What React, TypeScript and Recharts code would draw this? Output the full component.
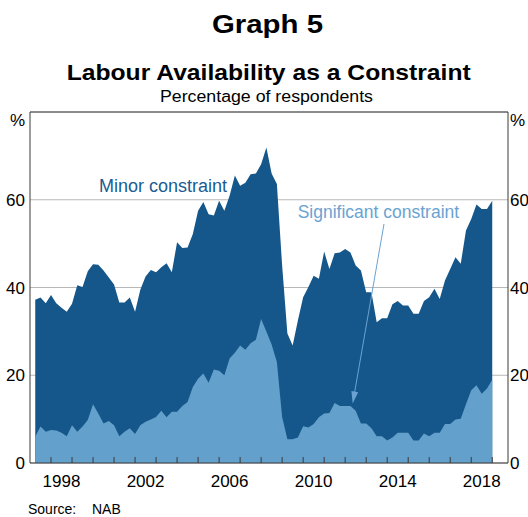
import { AreaChart, Area, XAxis, YAxis, CartesianGrid, ReferenceLine } from "recharts";

// quarterly, first observation plotted at 1997.25
const firstQuarter = 1997.25;

// total share of firms reporting labour as a constraint (minor + significant), %
const totalConstraint = [
  37.2, 37.7, 36.4,
  38.3, 36.4, 35.4, 34.5,
  36.3, 40.5, 40.1, 43.7,
  45.3, 45.2, 43.9, 42.3,
  40.7, 36.6, 36.6, 37.7,
  34.5, 39.5, 42.5, 44.0,
  43.5, 44.6, 45.5, 43.5,
  50.3, 49.0, 49.1, 52.2,
  57.5, 59.5, 56.7, 56.4,
  59.8, 57.5, 60.9, 65.5,
  63.2, 63.9, 65.8, 66.0,
  68.1, 71.9, 66.0, 63.6,
  45.0, 29.5, 26.8, 32.5,
  37.8, 40.1, 42.7, 42.0,
  48.2, 44.2, 47.8, 48.0,
  48.8, 48.0, 45.0, 43.9,
  38.9, 38.9, 32.1, 33.0,
  33.0, 36.2, 36.9, 35.9,
  35.9, 34.0, 34.0, 36.9,
  37.8, 39.7, 37.4, 41.6,
  44.2, 46.9, 45.4, 53.0,
  55.6, 58.9, 57.9, 57.9,
  59.8,
];

// significant constraint, %
const significantConstraint = [
  6.0, 8.3, 7.1,
  7.5, 7.4, 6.9, 6.1,
  8.6, 7.1, 8.3, 9.8,
  13.4, 11.3, 9.0, 9.6,
  8.6, 6.1, 7.1, 7.9,
  6.6, 8.6, 9.4, 9.9,
  10.5, 11.9, 10.4, 11.7,
  11.7, 13.0, 13.9, 17.3,
  19.2, 20.4, 18.3, 21.3,
  21.0, 20.0, 23.8, 25.1,
  26.8, 25.8, 27.3, 28.1,
  32.8, 30.0, 27.0, 23.0,
  10.5, 5.4, 5.4, 5.8,
  8.4, 8.1, 8.9, 10.4,
  11.3, 11.4, 13.7, 13.0,
  13.0, 13.0, 11.9, 9.0,
  9.0, 7.9, 6.1, 6.1,
  5.1, 5.8, 6.9, 6.9,
  6.9, 5.1, 5.1, 6.7,
  6.1, 6.9, 6.9, 8.9,
  8.9, 9.9, 10.1, 13.4,
  16.6, 17.7, 15.8, 17.0,
  19.0,
];

const yearTicks = [
  1998, 1999, 2000, 2001, 2002, 2003, 2004, 2005, 2006, 2007, 2008,
  2009, 2010, 2011, 2012, 2013, 2014, 2015, 2016, 2017, 2018, 2019,
];
const labelYears = [1998, 2002, 2006, 2010, 2014, 2018];
const yTicks = [0, 20, 40, 60, 80];
const yLabels = [0, 20, 40, 60];

const data = totalConstraint.map((total, i) => ({
  t: firstQuarter + i / 4,
  total,
  significant: significantConstraint[i],
}));

const FONT = "'Liberation Sans', Arial, sans-serif";
const DARK = "#15578a";
const LIGHT = "#64a0cc";
const AXIS = "#3a3a3a";

// year tick marks sit on year boundaries, labels centred mid-year
const xTickValues = [...yearTicks, ...labelYears.map((y) => y + 0.5)];

function XTick(props: any) {
  const { x, y, payload } = props;
  const v = payload.value as number;
  if (v % 1 === 0) {
    return <line x1={x} x2={x} y1={y} y2={y - 6} stroke={AXIS} strokeWidth={1} />;
  }
  return (
    <text x={x} y={y + 23.5} textAnchor="middle" fontSize={17} fontFamily={FONT} fill="#000">
      {Math.floor(v)}
    </text>
  );
}

function YTick(props: any) {
  const { y, payload } = props;
  const v = payload.value as number;
  if (!yLabels.includes(v)) return <g />;
  return (
    <g fontSize={17} fontFamily={FONT} fill="#000">
      <text x={25} y={y + 6} textAnchor="end">{v}</text>
      <text x={510} y={y + 6} textAnchor="start">{v}</text>
    </g>
  );
}

export default function App() {
  return (
    <div style={{ position: "fixed", left: 0, top: 0, width: 528, height: 517, background: "#fff" }}>
      <AreaChart
        width={528}
        height={517}
        data={data}
        margin={{ top: 112, right: 20, bottom: 24, left: 0 }}
      >
        <CartesianGrid vertical={false} stroke="#b8b8b8" strokeWidth={1} />
        <XAxis
          dataKey="t"
          type="number"
          domain={[1997, 2019.75]}
          ticks={xTickValues}
          interval={0}
          height={30}
          tickSize={0}
          tickMargin={0}
          tickLine={false}
          axisLine={{ stroke: AXIS }}
          tick={<XTick />}
        />
        <YAxis
          type="number"
          domain={[0, 80]}
          ticks={yTicks}
          interval={0}
          width={30}
          tickLine={false}
          axisLine={{ stroke: AXIS }}
          tick={<YTick />}
        />
        <Area
          type="linear"
          dataKey="total"
          stroke="none"
          fill={DARK}
          fillOpacity={1}
          isAnimationActive={false}
        />
        <Area
          type="linear"
          dataKey="significant"
          stroke="none"
          fill={LIGHT}
          fillOpacity={1}
          isAnimationActive={false}
        />
        <ReferenceLine y={80} stroke={AXIS} strokeWidth={1} />
        <ReferenceLine x={2019.75} stroke={AXIS} strokeWidth={1} />
      </AreaChart>

      <svg
        width={528}
        height={517}
        style={{ position: "absolute", left: 0, top: 0, pointerEvents: "none" }}
        fontFamily={FONT}
      >
        <text x={267.5} y={33} textAnchor="middle" fontSize={26} fontWeight="bold" textLength={111} lengthAdjust="spacingAndGlyphs">
          Graph 5
        </text>
        <text x={268.7} y={79.5} textAnchor="middle" fontSize={22} fontWeight="bold" textLength={404} lengthAdjust="spacingAndGlyphs">
          Labour Availability as a Constraint
        </text>
        <text x={266.5} y={101.7} textAnchor="middle" fontSize={16} textLength={213} lengthAdjust="spacingAndGlyphs">
          Percentage of respondents
        </text>
        <text x={25} y={126} textAnchor="end" fontSize={17}>%</text>
        <text x={510} y={126} textAnchor="start" fontSize={17}>%</text>

        <text x={99} y={192.3} fontSize={18} fill="#1b5c92">Minor constraint</text>
        <text x={297.7} y={218.3} fontSize={17.5} fill="#6aa3d2">Significant constraint</text>
        <line x1={384} y1={224} x2={354.5} y2={393} stroke="#6aa3d2" strokeWidth={1} />
        <polygon points="352.7,403.5 358.2,392.3 351.4,391.1" fill="#6aa3d2" />

        <text x={28} y={514} fontSize={14}>Source:</text>
        <text x={92} y={514} fontSize={14}>NAB</text>
      </svg>
    </div>
  );
}
